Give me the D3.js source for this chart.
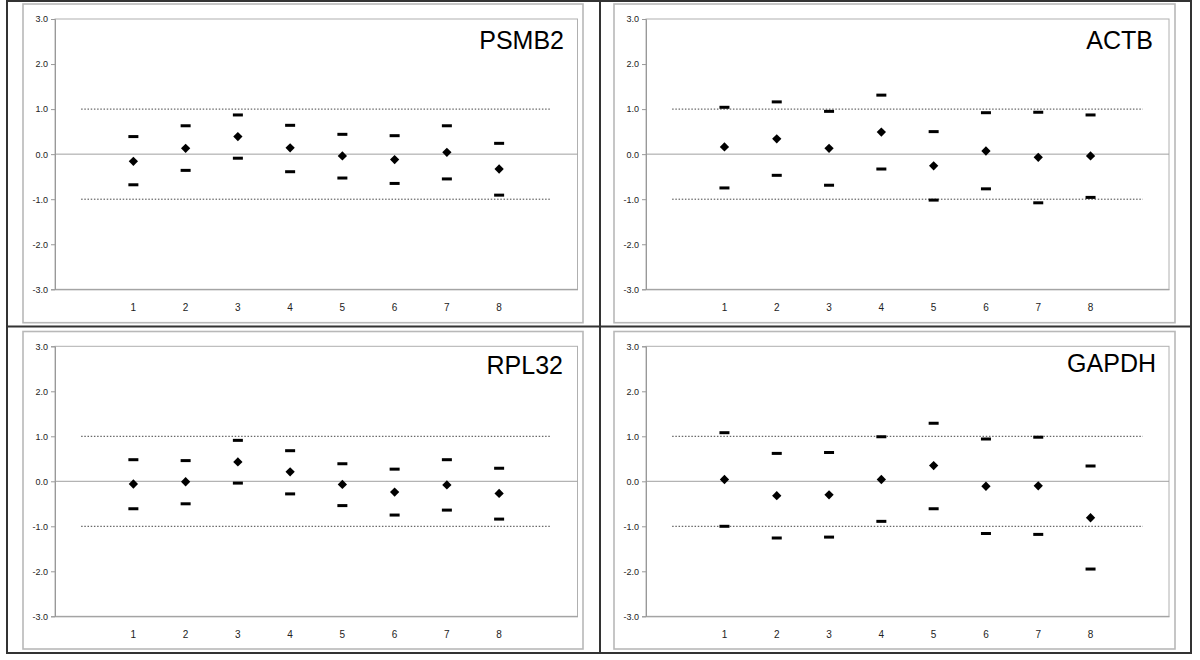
<!DOCTYPE html>
<html>
<head>
<meta charset="utf-8">
<script src="https://cdn.jsdelivr.net/npm/d3@7"></script>
<style>
  html, body { margin: 0; padding: 0; background: #fff; }
  svg { display: block; font-family: "Liberation Sans", Arial, sans-serif; }
</style>
</head>
<body>
<svg id="chart" width="1200" height="660"></svg>
<script>
// ---- data ----
const genes = ["PSMB2", "ACTB", "RPL32", "GAPDH"];
const samples = ["1", "2", "3", "4", "5", "6", "7", "8"];
const yTicks = [-3, -2, -1, 0, 1, 2, 3];
const limitLines = [1, -1];

const meanPSMB2  = [-0.16, 0.13, 0.39, 0.14, -0.04, -0.12, 0.04, -0.33];
const upperPSMB2 = [0.39, 0.63, 0.87, 0.64, 0.44, 0.41, 0.63, 0.24];
const lowerPSMB2 = [-0.68, -0.36, -0.09, -0.39, -0.53, -0.65, -0.55, -0.91];

const meanACTB  = [0.16, 0.34, 0.13, 0.49, -0.26, 0.07, -0.07, -0.04];
const upperACTB = [1.04, 1.16, 0.95, 1.31, 0.50, 0.92, 0.93, 0.87];
const lowerACTB = [-0.75, -0.47, -0.69, -0.33, -1.02, -0.77, -1.08, -0.96];

const meanRPL32  = [-0.06, -0.01, 0.43, 0.21, -0.07, -0.24, -0.08, -0.27];
const upperRPL32 = [0.48, 0.46, 0.91, 0.68, 0.39, 0.27, 0.48, 0.29];
const lowerRPL32 = [-0.61, -0.50, -0.04, -0.28, -0.54, -0.75, -0.64, -0.84];

const meanGAPDH  = [0.04, -0.32, -0.30, 0.04, 0.35, -0.11, -0.10, -0.81];
const upperGAPDH = [1.08, 0.62, 0.64, 0.99, 1.29, 0.94, 0.98, 0.34];
const lowerGAPDH = [-1.00, -1.26, -1.24, -0.89, -0.61, -1.16, -1.18, -1.95];

const seriesByGene = {
  PSMB2: { mean: meanPSMB2, upper: upperPSMB2, lower: lowerPSMB2 },
  ACTB:  { mean: meanACTB,  upper: upperACTB,  lower: lowerACTB },
  RPL32: { mean: meanRPL32, upper: upperRPL32, lower: lowerRPL32 },
  GAPDH: { mean: meanGAPDH, upper: upperGAPDH, lower: lowerGAPDH }
};

// ---- layout ----
const layout = [
  { frame: [23, 4, 583, 322.7],   plot: [55, 19, 577.5, 289.3],   titleX: 564, titleY: 49 },
  { frame: [614, 4, 1175, 322.7], plot: [646, 19, 1169, 289.3],   titleX: 1153, titleY: 49 },
  { frame: [23, 331.5, 583, 649], plot: [55, 346.3, 577.5, 616.3], titleX: 563, titleY: 373.5 },
  { frame: [614, 331.5, 1175, 649], plot: [646, 346.3, 1169, 616.3], titleX: 1156, titleY: 371.5 }
];

const svg = d3.select("#chart");

// outer table frame
const outer = svg.append("g").attr("stroke", "#333").attr("stroke-width", 2).attr("fill", "none");
outer.append("rect").attr("x", 7).attr("y", 1).attr("width", 1184).attr("height", 652);
outer.append("line").attr("x1", 600).attr("x2", 600).attr("y1", 1).attr("y2", 653);
outer.append("line").attr("x1", 7).attr("x2", 1191).attr("y1", 326.5).attr("y2", 326.5);

const xKeys = ["_s"].concat(samples, ["_e"]);

genes.forEach((gene, gi) => {
  const L = layout[gi];
  const s = seriesByGene[gene];
  const g = svg.append("g");

  // grey chart-area border
  g.append("rect")
    .attr("x", L.frame[0]).attr("y", L.frame[1])
    .attr("width", L.frame[2] - L.frame[0]).attr("height", L.frame[3] - L.frame[1])
    .attr("fill", "none").attr("stroke", "#b8b8b8").attr("stroke-width", 1.6);

  const [x0, y0, x1, y1] = L.plot;
  const x = d3.scaleBand().domain(xKeys).range([x0, x1]).padding(0);
  const y = d3.scaleLinear().domain([-3, 3]).range([y1, y0]);
  const cx = k => x(k) + x.bandwidth() / 2;

  // plot area border
  g.append("rect")
    .attr("x", x0).attr("y", y0).attr("width", x1 - x0).attr("height", y1 - y0)
    .attr("fill", "none").attr("stroke", "#b0b0b0").attr("stroke-width", 1);

  // zero line
  g.append("line")
    .attr("x1", x0).attr("x2", x1).attr("y1", y(0)).attr("y2", y(0))
    .attr("stroke", "#a0a0a0").attr("stroke-width", 1);

  // y axis
  const yAxis = g.append("g").attr("transform", `translate(${x0},0)`)
    .call(d3.axisLeft(y).tickValues(yTicks).tickFormat(d3.format(".1f")).tickSize(4).tickPadding(3));
  yAxis.select(".domain").attr("stroke", "#999");
  yAxis.selectAll(".tick line").attr("stroke", "#999");
  yAxis.selectAll("text").attr("font-size", 9).attr("fill", "#222")
    .attr("font-family", "'Liberation Sans', Arial, sans-serif")
    .text(d => d3.format(".1f")(d).replace("−", "-"));

  // x axis
  const xAxis = g.append("g").attr("transform", `translate(0,${y1})`)
    .call(d3.axisBottom(x).tickValues(samples).tickSize(0).tickPadding(15));
  xAxis.select(".domain").attr("stroke", "#999");
  xAxis.selectAll("text").attr("font-size", 10).attr("fill", "#222")
    .attr("font-family", "'Liberation Sans', Arial, sans-serif");

  // dotted limit lines
  limitLines.forEach(v => {
    g.append("line")
      .attr("x1", cx("_s")).attr("x2", cx("_e"))
      .attr("y1", y(v)).attr("y2", y(v))
      .attr("stroke", "#444").attr("stroke-width", 1)
      .attr("stroke-dasharray", "1.5,1.7");
  });

  // upper / lower dash markers
  ["upper", "lower"].forEach(key => {
    g.selectAll(null).data(s[key]).enter().append("rect")
      .attr("x", (d, i) => cx(samples[i]) - 5)
      .attr("y", d => y(d) - 1.5)
      .attr("width", 10).attr("height", 3)
      .attr("fill", "#000");
  });

  // mean diamonds
  const diamond = d3.symbol().type(d3.symbolDiamond2).size(55);
  g.selectAll(null).data(s.mean).enter().append("path")
    .attr("d", diamond)
    .attr("transform", (d, i) => `translate(${cx(samples[i])},${y(d)})`)
    .attr("fill", "#000");

  // title
  g.append("text")
    .attr("x", L.titleX).attr("y", L.titleY)
    .attr("text-anchor", "end")
    .attr("font-size", 25)
    .attr("font-family", "'Liberation Sans', Arial, sans-serif")
    .attr("fill", "#000")
    .text(gene);
});
</script>
</body>
</html>
